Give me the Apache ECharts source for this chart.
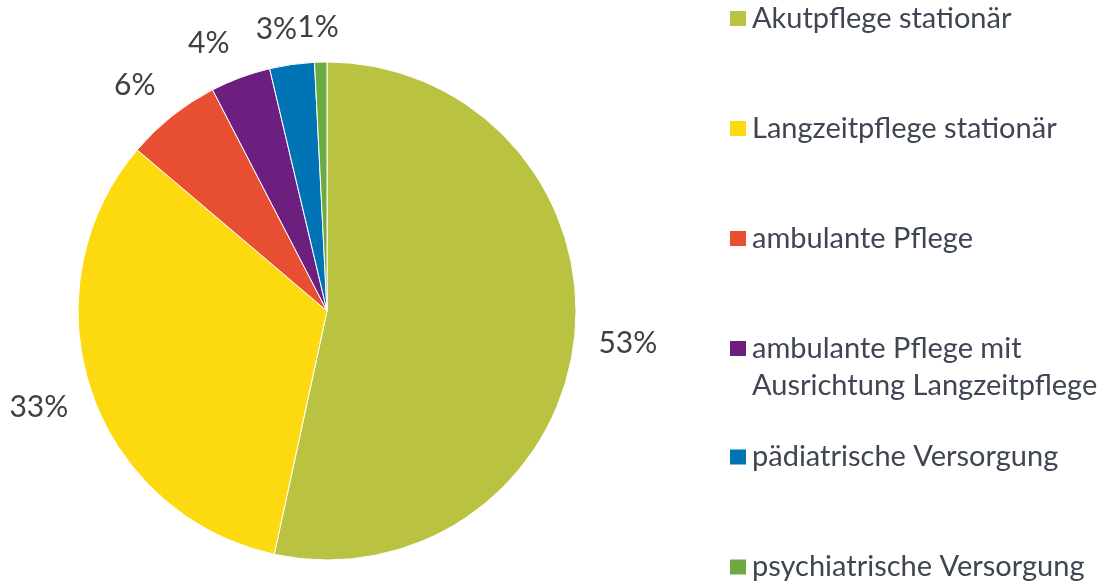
<!DOCTYPE html>
<html>
<head>
<meta charset="utf-8">
<script src="https://cdn.jsdelivr.net/npm/echarts@6/dist/echarts.min.js"></script>
<style>
html,body{margin:0;padding:0;background:#fff;}
#c{width:1102px;height:583px;}
</style>
</head>
<body>
<div id="c"></div>
<script>
const categories = [
  'Akutpflege stationär',
  'Langzeitpflege stationär',
  'ambulante Pflege',
  'ambulante Pflege mit\nAusrichtung Langzeitpflege',
  'pädiatrische Versorgung',
  'psychiatrische Versorgung'
];
const values = [53.4, 32.8, 6.2, 3.9, 2.9, 0.8];
const colors = ['#BAC241', '#FDD90F', '#E84E32', '#6D1F80', '#0073B5', '#6CAA44'];

const CX = 327, CY = 311, R = 249;
const FONT = 'Lato';
const textColor = '#3F4553';

const chart = echarts.init(document.getElementById('c'));

const legendBase = {
  orient: 'vertical',
  left: 728,
  padding: 0,
  height: 200,
  itemWidth: 18,
  itemHeight: 17,
  itemGap: 73,
  icon: 'rect',
  textStyle: { fontFamily: FONT, fontSize: 29, color: textColor, lineHeight: 37 }
};

chart.setOption({
  animation: false,
  color: colors,
  legend: [
    Object.assign({}, legendBase, { top: 0, height: 300, data: categories.slice(0, 3) }),
    Object.assign({}, legendBase, {
      top: 293,
      data: [categories[3]],
      formatter: function (name) { return ' \n' + name; }
    }),
    Object.assign({}, legendBase, { top: 438.5, height: 160, data: categories.slice(4) })
  ],
  series: [{
    type: 'pie',
    center: [CX, CY],
    radius: R,
    startAngle: 90,
    clockwise: true,
    avoidLabelOverlap: false,
    percentPrecision: 0,
    data: categories.map((n, i) => ({ name: n, value: values[i] })),
    itemStyle: { borderColor: '#fff', borderWidth: 1 },
    label: {
      show: true,
      position: 'outside',
      formatter: '{d}%',
      fontFamily: FONT,
      fontSize: 30,
      color: '#404040',
      distanceToLabelLine: 0
    },
    labelLine: { show: false, length: 20, length2: 0 },
    labelLayout: function (p) {
      const r = p.labelRect;
      const ax = p.align === 'right' ? r.x + r.width : r.x;
      const ay = r.y + r.height / 2;
      const dx = ax - CX, dy = ay - CY;
      const len = Math.sqrt(dx * dx + dy * dy) || 1;
      const ux = dx / len, uy = dy / len;
      const clamp = (v, m) => Math.max(-m, Math.min(m, v));
      return {
        x: ax + clamp(ux * 90, r.width / 2 + 4),
        y: ay + clamp(uy * 30, 15),
        align: 'center',
        verticalAlign: 'middle'
      };
    }
  }]
});
</script>
</body>
</html>
